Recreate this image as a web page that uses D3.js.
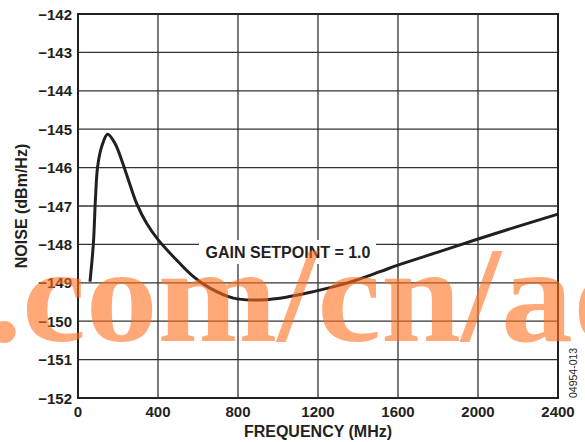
<!DOCTYPE html>
<meta charset='utf-8'>
<html>
<body style="margin:0;background:#fff">
<script src="https://cdn.jsdelivr.net/npm/d3@7/dist/d3.min.js"></script>
<script>

    var freq  = [60, 77, 87, 98, 118, 148, 185, 218, 252, 293, 343, 402, 477, 577, 660, 777, 870, 1010, 1177, 1343, 1510, 1600, 1800, 2000, 2200, 2400];
    var noise = [-148.97, -147.97, -146.84, -145.98, -145.46, -145.13, -145.37, -145.80, -146.32, -146.93, -147.45, -147.89, -148.32, -148.84, -149.14, -149.40, -149.45, -149.40, -149.23, -149.01, -148.71, -148.54, -148.20, -147.86, -147.53, -147.21];
    var xTicks = [0, 400, 800, 1200, 1600, 2000, 2400];
    var yTicks = [-152, -151, -150, -149, -148, -147, -146, -145, -144, -143, -142];

    var width = 585, height = 442;
    var margin = { left: 78, right: 27, top: 14, bottom: 44 };
    var font = "'Liberation Sans', Arial, sans-serif";

    var svg = d3.select('body').append('svg')
        .attr('width', width)
        .attr('height', height);

    var x = d3.scaleLinear().domain([0, 2400]).range([margin.left, width - margin.right]);
    var y = d3.scaleLinear().domain([-152, -142]).range([height - margin.bottom, margin.top]);

    // grid
    var grid = svg.append('g').attr('stroke', '#333').attr('stroke-width', 1.3);
    grid.selectAll('line.v').data(xTicks).enter().append('line')
        .attr('x1', function(d){ return x(d); }).attr('x2', function(d){ return x(d); })
        .attr('y1', y(-152)).attr('y2', y(-142));
    grid.selectAll('line.h').data(yTicks).enter().append('line')
        .attr('x1', x(0)).attr('x2', x(2400))
        .attr('y1', function(d){ return y(d); }).attr('y2', function(d){ return y(d); });

    // frame
    svg.append('rect')
        .attr('x', x(0)).attr('y', y(-142))
        .attr('width', x(2400) - x(0)).attr('height', y(-152) - y(-142))
        .attr('fill', 'none').attr('stroke', '#222').attr('stroke-width', 2);

    // tick labels
    svg.selectAll('text.yt').data(yTicks).enter().append('text')
        .attr('x', x(0) - 6).attr('y', function(d){ return y(d) + 5.5; })
        .attr('text-anchor', 'end')
        .style('font', 'bold 15px ' + font).attr('fill', '#231f20')
        .text(function(d){ return '\u2212' + Math.abs(d); });

    svg.selectAll('text.xt').data(xTicks).enter().append('text')
        .attr('x', function(d){ return x(d); }).attr('y', y(-152) + 19)
        .attr('text-anchor', 'middle')
        .style('font', 'bold 15px ' + font).attr('fill', '#231f20')
        .text(function(d){ return d; });

    // axis titles
    svg.append('text')
        .attr('x', (x(0) + x(2400)) / 2).attr('y', 437)
        .attr('text-anchor', 'middle')
        .style('font', 'bold 16px ' + font).attr('fill', '#231f20')
        .text('FREQUENCY (MHz)');

    svg.append('text')
        .attr('transform', 'translate(27,' + ((y(-142) + y(-152)) / 2) + ') rotate(-90)')
        .attr('text-anchor', 'middle')
        .style('font', 'bold 16px ' + font).attr('fill', '#231f20')
        .text('NOISE (dBm/Hz)');

    svg.append('text')
        .attr('transform', 'translate(577,' + y(-152) + ') rotate(-90)')
        .attr('text-anchor', 'start')
        .style('font', '10.5px ' + font).attr('fill', '#231f20')
        .text('04954-013');

    // curve
    var pts = freq.map(function(f, i){ return [f, noise[i]]; });
    var line = d3.line()
        .x(function(d){ return x(d[0]); })
        .y(function(d){ return y(d[1]); })
        .curve(d3.curveCatmullRom);

    svg.append('path')
        .datum(pts)
        .attr('d', line)
        .attr('fill', 'none')
        .attr('stroke', '#231f20')
        .attr('stroke-width', 3);

    // annotation
    svg.append('rect')
        .attr('x', 199).attr('y', 240).attr('width', 177).attr('height', 24)
        .attr('fill', '#fff');
    svg.append('text')
        .attr('x', 288).attr('y', 258)
        .attr('text-anchor', 'middle')
        .style('font', 'bold 16px ' + font).attr('fill', '#231f20')
        .text('GAIN SETPOINT = 1.0');

    // watermark
    svg.append('text')
        .attr('transform', 'translate(-14,341) scale(1.065,1)')
        .style('font', "bold 135px 'Liberation Serif', 'Times New Roman', serif")
        .attr('fill', '#ff6e1e')
        .attr('fill-opacity', 0.6)
        .text('.com/cn/ad');

</script>
</body>
</html>
